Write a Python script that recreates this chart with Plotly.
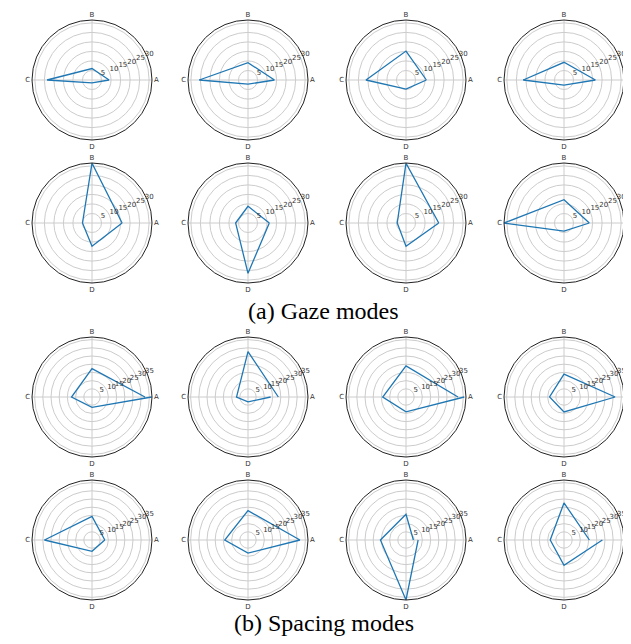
import plotly.graph_objects as go

# ---- data ----
axis_labels = ["A", "B", "C", "D"]
radial_ticks_gaze = [5, 10, 15, 20, 25, 30]
radial_ticks_spacing = [5, 10, 15, 20, 25, 30, 35]

gaze_A = [9.0, 13.9, 10.7, 16.5, 15.8, 11.2, 17.2, 13.3]
gaze_B = [6.0, 9.1, 15.2, 9.3, 31.4, 8.8, 31.4, 12.2]
gaze_C = [23.6, 25.6, 21.0, 21.4, 5.0, 6.5, 4.6, 31.5]
gaze_D = [1.5, 2.2, 4.8, 2.7, 12.2, 26.4, 12.2, 4.3]
gaze_A_end = [9.0, 13.9, 10.7, 16.5, 15.8, 11.2, 17.2, 13.3]

spacing_A = [32.3, 18.5, 31.7, 31.2, 7.8, 31.7, 4.5, 15.5]
spacing_B = [17.3, 27.7, 19.0, 14.0, 14.4, 17.9, 15.7, 22.6]
spacing_C = [12.5, 7.0, 14.2, 8.8, 29.0, 14.2, 15.6, 8.4]
spacing_D = [6.3, 3.0, 9.1, 9.1, 6.9, 8.0, 36.6, 15.5]
spacing_A_end = [36.4, 13.8, 35.5, 31.2, 7.8, 31.7, 7.4, 23.4]

captions = ["(a) Gaze modes", "(b) Spacing modes"]

# ---- layout geometry ----
W, H = 631, 644
col_cx = [84, 240, 398, 556]
row_cy = [72, 215, 389, 532]
R = 60
label_angle = 22.5

fig = go.Figure()
theta = [0, 90, 180, 270, 360]

groups = [
    (gaze_A, gaze_B, gaze_C, gaze_D, gaze_A_end, radial_ticks_gaze, 31.5, 0),
    (spacing_A, spacing_B, spacing_C, spacing_D, spacing_A_end, radial_ticks_spacing, 36.6, 2),
]

k = 0
for A, B, C, D, AE, ticks, rmax, row0 in groups:
    for i in range(8):
        k += 1
        name = "polar" if k == 1 else f"polar{k}"
        r_i = row0 + i // 4
        c_i = i % 4
        cx, cy = col_cx[c_i], row_cy[r_i]
        fig.add_trace(go.Scatterpolar(
            r=[A[i], B[i], C[i], D[i], AE[i]],
            theta=theta,
            mode="lines",
            line=dict(color="#1f77b4", width=1.3),
            subplot=name,
            showlegend=False,
            hoverinfo="skip",
        ))
        # radial tick labels placed along 22.5 degrees, matplotlib-style
        fig.add_trace(go.Scatterpolar(
            r=ticks,
            theta=[label_angle] * len(ticks),
            mode="text",
            text=[str(t) for t in ticks],
            textposition="top right",
            textfont=dict(family="DejaVu Sans", size=7, color="#333333"),
            subplot=name,
            showlegend=False,
            hoverinfo="skip",
            cliponaxis=False,
        ))
        fig.layout[name] = dict(
            domain=dict(x=[(cx - R) / W, (cx + R) / W],
                        y=[1 - (cy + R) / H, 1 - (cy - R) / H]),
            bgcolor="white",
            radialaxis=dict(
                range=[0, rmax], tickvals=ticks, showticklabels=False,
                showline=False, ticks="",
                gridcolor="#cccccc", gridwidth=0.8,
            ),
            angularaxis=dict(
                rotation=0, direction="counterclockwise",
                tickvals=[0, 90, 180, 270], ticktext=axis_labels,
                showline=True, linecolor="#222222", linewidth=1,
                gridcolor="#cccccc", gridwidth=0.8, ticks="", ticklen=0,
                tickfont=dict(family="DejaVu Sans", size=7, color="#333333"),
            ),
        )

fig.add_annotation(text=captions[0], x=0.5, y=1 - 303 / H, xref="paper", yref="paper",
                   showarrow=False, font=dict(family="Liberation Serif", size=24, color="black"))
fig.add_annotation(text=captions[1], x=0.5, y=1 - 630 / H, xref="paper", yref="paper",
                   showarrow=False, font=dict(family="Liberation Serif", size=24, color="black"))

fig.update_layout(width=W, height=H, margin=dict(l=0, r=0, t=0, b=0),
                  paper_bgcolor="white", plot_bgcolor="white")
fig.write_html("out.html")
